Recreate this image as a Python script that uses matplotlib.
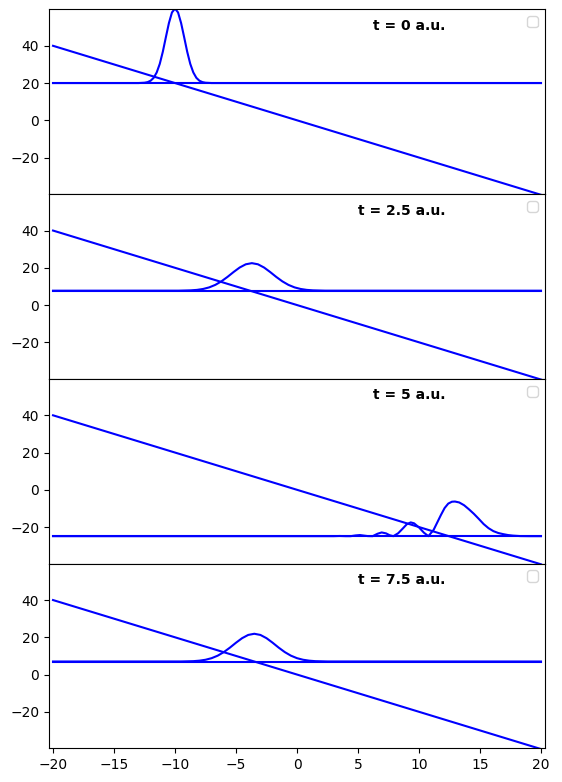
import matplotlib
matplotlib.use("Agg")
import matplotlib.pyplot as plt

# potential V(x), same in every panel
x_pot = [-20, 20]
v_pot = [40, -40]

times = ["t = 0 a.u.", "t = 2.5 a.u.", "t = 5 a.u.", "t = 7.5 a.u."]
levels = [20, 7.7, -24.9, 7.0]

# wavepacket curves, offset by the level
x_t0 = [-20, -13, -12.5, -12.25, -12, -11.75, -11.5, -11.25, -11, -10.75, -10.5, -10.25,
        -10, -9.75, -9.5, -9.25, -9, -8.75, -8.5, -8.25, -8, -7.75, -7.5, -7, 20]
y_t0 = [20, 20, 20.18, 20.5, 21.25, 22.8, 25.7, 30.3, 36.8, 44.6, 52.2, 57.9,
        60, 57.9, 52.2, 44.6, 36.8, 30.3, 25.7, 22.8, 21.25, 20.5, 20.18, 20, 20]

x_t1 = [-20, -9.7, -8.7, -8.2, -7.7, -7.2, -6.7, -6.2, -5.7, -5.2, -4.7, -4.2, -3.7,
        -3.2, -2.7, -2.2, -1.7, -1.2, -0.7, -0.2, 0.3, 0.8, 1.3, 2.3, 20]
y_t1 = [7.7, 7.72, 7.9, 8.14, 8.63, 9.48, 10.82, 12.72, 15.1, 17.73, 20.15, 21.88, 22.5,
        21.88, 20.15, 17.73, 15.1, 12.72, 10.82, 9.48, 8.63, 8.14, 7.9, 7.72, 7.7]

x_t2 = [-20, 3.0, 3.5, 4.0, 4.4, 4.8, 5.16, 5.5, 5.8, 6.2, 6.6, 6.94, 7.3, 7.6, 7.9,
        8.3, 8.7, 9.0, 9.32, 9.6, 10.0, 10.4, 10.77, 11.2, 11.5, 11.8, 12.1, 12.4, 12.7,
        12.95, 13.3, 13.7, 14.1, 14.5, 14.9, 15.3, 15.7, 16.1, 16.5, 16.9, 17.3, 17.7,
        18.3, 19.0, 20]
y_t2 = [-24.9, -24.9, -24.8, -24.9, -24.9, -24.5, -24.3, -24.6, -24.85, -24.9, -23.6,
        -22.9, -23.4, -24.4, -24.9, -23.3, -20.6, -18.5, -17.5, -18.0, -20.2, -23.0,
        -24.9, -21.5, -17.5, -13.5, -9.8, -7.4, -6.4, -6.3, -6.8, -8.3, -10.5, -12.9,
        -15.6, -18.4, -20.6, -22.2, -23.2, -23.8, -24.3, -24.6, -24.85, -24.9, -24.9]

x_t3 = [-20, -9.5, -8.5, -8.0, -7.5, -7.0, -6.5, -6.0, -5.5, -5.0, -4.5, -4.0, -3.5,
        -3.0, -2.5, -2.0, -1.5, -1.0, -0.5, 0.0, 0.5, 1.0, 1.5, 2.5, 20]
y_t3 = [7.0, 7.02, 7.19, 7.45, 7.94, 8.79, 10.14, 12.05, 14.45, 17.10, 19.53, 21.27, 21.9,
        21.27, 19.53, 17.10, 14.45, 12.05, 10.14, 8.79, 7.94, 7.45, 7.19, 7.02, 7.0]

packets = [(x_t0, y_t0), (x_t1, y_t1), (x_t2, y_t2), (x_t3, y_t3)]


def main():
  fig, axes = plt.subplots(4, 1, sharex=True, figsize=(5.62, 7.82), dpi=100)
  fig.subplots_adjust(left=49/562, right=545/562, top=1-9.3/782, bottom=1-748.3/782, hspace=0)

  for ax, label, level, (px, py) in zip(axes, times, levels, packets):
    ax.plot(x_pot, v_pot, color='blue')
    ax.plot([-20, 20], [level, level], color='blue')
    ax.plot(px, py, color='blue')
    ax.text(0.8, 0.91, label, transform=ax.transAxes, ha='right', va='center',
            fontsize=10, fontweight='bold')
    ax.set_ylim(-39.6, 59.6)
    ax.set_xlim(-20.33, 20.33)
    ax.legend(loc='upper right')

  plt.savefig('out.png', dpi=100)


if __name__ == "__main__":
  main()
